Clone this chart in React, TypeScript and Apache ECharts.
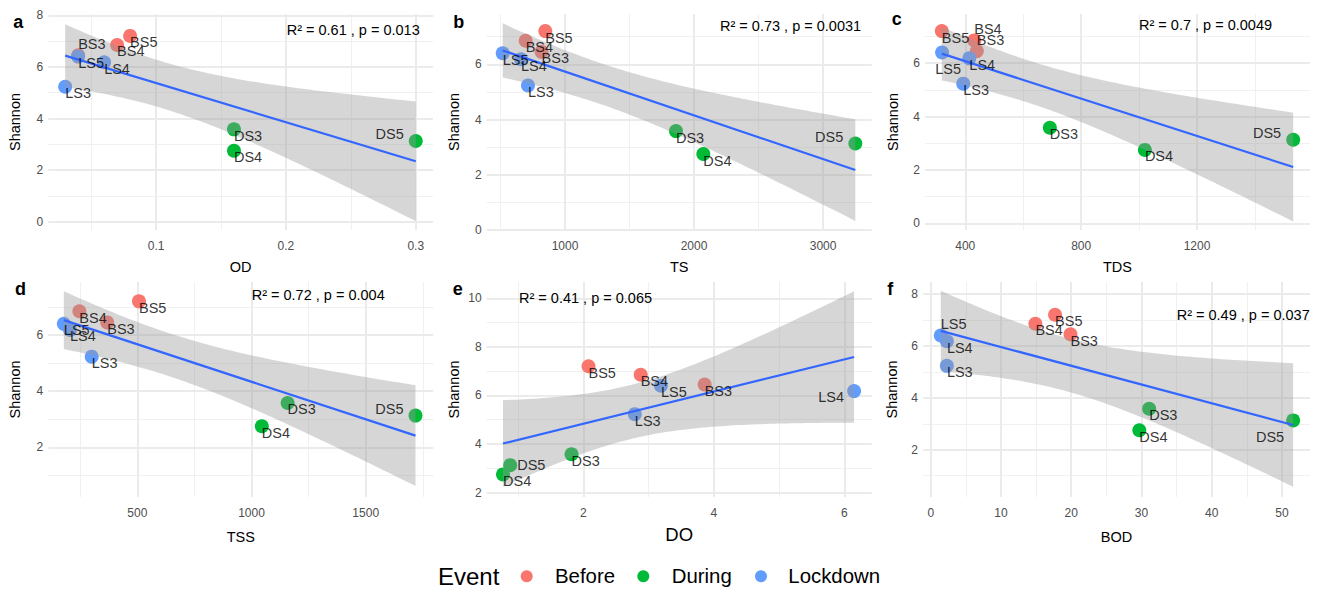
import React, { useEffect, useRef } from 'react';
import * as echarts from 'echarts';

// ---------------- data ----------------
const samples = ['BS3', 'BS4', 'BS5', 'DS3', 'DS4', 'DS5', 'LS3', 'LS4', 'LS5'];
const events = ['Before', 'Before', 'Before', 'During', 'During', 'During', 'Lockdown', 'Lockdown', 'Lockdown'];
const eventNames = ['Before', 'During', 'Lockdown'];
const eventColors = ['#F8766D', '#00BA38', '#619CFF'];
const shannon = [6.45, 6.85, 7.2, 3.58, 2.75, 3.13, 5.23, 6.18, 6.4];

const OD = [0.04, 0.07, 0.08, 0.16, 0.16, 0.3, 0.03, 0.06, 0.04];
const TS = [818, 695, 847, 1860, 2072, 3250, 713, 659, 517];
const TDS = [440, 431, 319, 692, 1020, 1532, 393, 414, 320];
const TSS = [368, 246, 507, 1158, 1045, 1718, 300, 205, 178];
const DO = [3.86, 2.88, 2.08, 1.82, 0.77, 0.88, 2.79, 6.15, 3.19];
const BOD = [19.9, 14.9, 17.7, 31.1, 29.7, 51.6, 2.3, 2.3, 1.43];

const statLabels = [
  'R² = 0.61 , p = 0.013',
  'R² = 0.73 , p = 0.0031',
  'R² = 0.7 , p = 0.0049',
  'R² = 0.72 , p = 0.004',
  'R² = 0.41 , p = 0.065',
  'R² = 0.49 , p = 0.037',
];

const xTickA = [0.1, 0.2, 0.3];
const xTickB = [1000, 2000, 3000];
const xTickC = [400, 800, 1200];
const xTickD = [500, 1000, 1500];
const xTickE = [2, 4, 6];
const xTickF = [0, 10, 20, 30, 40, 50];
const yTickA = [0, 2, 4, 6, 8];
const yTickB = [0, 2, 4, 6];
const yTickC = [0, 2, 4, 6];
const yTickD = [2, 4, 6];
const yTickE = [2, 4, 6, 8, 10];
const yTickF = [2, 4, 6, 8];

// ---------------- layout / style ----------------
const FONT = '"Liberation Sans", Arial, Helvetica, sans-serif';

const panels = [
  { tag: 'a', name: 'OD', x: OD, xTicks: xTickA, xMinor: [0.05, 0.15, 0.25], yTicks: yTickA, yMinor: [1, 3, 5, 7],
    xr: [0.017, 0.3133], yr: [-0.32, 8.05], box: [48.3, 14, 384.7, 216], xGap: 29, yGap: 26, nameSize: 14.5,
    place: ['tr', 'br', 'br', 'br', 'br', 'tl', 'br', 'br', 'br'], tagPos: [13.3, 22], statPos: [286.7, 29.5] },
  { tag: 'b', name: 'TS', x: TS, xTicks: xTickB, xMinor: [500, 1500, 2500], yTicks: yTickB, yMinor: [1, 3, 5, 7],
    xr: [393, 3377], yr: [0, 7.82], box: [486.7, 14, 385, 216], xGap: 29, yGap: 25, nameSize: 14.5,
    place: ['br', 'br', 'br', 'br', 'br', 'tl', 'br', 'br', 'br'], tagPos: [453.3, 22], statPos: [720, 26] },
  { tag: 'c', name: 'TDS', x: TDS, xTicks: xTickC, xMinor: [600, 1000, 1400], yTicks: yTickC, yMinor: [1, 3, 5, 7],
    xr: [261, 1590], yr: [-0.25, 7.84], box: [925, 14, 385, 216], xGap: 29, yGap: 25, nameSize: 14.5,
    place: ['tr', 'tr', 'br', 'br', 'br', 'tl', 'br', 'br', 'b'], tagPos: [891.7, 19], statPos: [1139, 25] },
  { tag: 'd', name: 'TSS', x: TSS, xTicks: xTickD, xMinor: [250, 750, 1250, 1750], yTicks: yTickD, yMinor: [1, 3, 5, 7],
    xr: [110, 1796], yr: [0.23, 7.89], box: [48.3, 282, 385, 215], xGap: 32, yGap: 26, nameSize: 14.5,
    place: ['br', 'br', 'br', 'br', 'br', 'tl', 'br', 'br', 'br'], tagPos: [15, 288.7], statPos: [251.7, 295] },
  { tag: 'e', name: 'DO', x: DO, xTicks: xTickE, xMinor: [1, 3, 5], yTicks: yTickE, yMinor: [3, 5, 7, 9],
    xr: [0.52, 6.42], yr: [1.82, 10.67], box: [486.7, 282, 385, 215], xGap: 28, yGap: 25, nameSize: 18.5,
    place: ['br', 'br', 'br', 'br', 'br', 'r', 'br', 'bl', 'br'], tagPos: [452.7, 288.7], statPos: [519, 297.5] },
  { tag: 'f', name: 'BOD', x: BOD, xTicks: xTickF, xMinor: [5, 15, 25, 35, 45], yTicks: yTickF, yMinor: [1, 3, 5, 7],
    xr: [-1.1, 54.0], yr: [0.18, 8.46], box: [923, 282, 387, 215], xGap: 32, yGap: 24, nameSize: 14.5,
    place: ['br', 'br', 'br', 'br', 'br', 'bl2', 'br', 'br', 'tr'], tagPos: [887.3, 288.7], statPos: [1176.7, 315] },
];

const legendDotX = [526.7, 643.3, 761];
const legendTextX = [555, 671.7, 788.3];
const LEGEND_Y = 576.3;

const placeStyles: Record<string, { off: number[]; align: string; va: string }> = {
  br: { off: [0, -1], align: 'left', va: 'top' },
  tl: { off: [-12, 1], align: 'right', va: 'bottom' },
  tr: { off: [0, -4], align: 'left', va: 'bottom' },
  b: { off: [6, 9], align: 'center', va: 'top' },
  r: { off: [7, 0], align: 'left', va: 'middle' },
  bl: { off: [-10, -2], align: 'right', va: 'top' },
  bl2: { off: [-9, 9], align: 'right', va: 'top' },
};

function linfit(xs: number[], ys: number[]) {
  const n = xs.length;
  const mx = xs.reduce((s, v) => s + v, 0) / n;
  const my = ys.reduce((s, v) => s + v, 0) / n;
  let sxx = 0;
  let sxy = 0;
  for (let i = 0; i < n; i++) {
    sxx += (xs[i] - mx) ** 2;
    sxy += (xs[i] - mx) * (ys[i] - my);
  }
  const b = sxy / sxx;
  const a = my - b * mx;
  let sse = 0;
  for (let i = 0; i < n; i++) sse += (ys[i] - a - b * xs[i]) ** 2;
  const s = Math.sqrt(sse / (n - 2));
  const t = 2.364624; // qt(0.975, 7)
  const lo = Math.min(...xs);
  const hi = Math.max(...xs);
  const upper: number[][] = [];
  const lower: number[][] = [];
  for (let k = 0; k < 80; k++) {
    const x = lo + ((hi - lo) * k) / 79;
    const yh = a + b * x;
    const se = s * Math.sqrt(1 / n + (x - mx) ** 2 / sxx);
    upper.push([x, yh + t * se]);
    lower.push([x, yh - t * se]);
  }
  return { a, b, lo, hi, upper, lower };
}

function buildOption() {
  const grid: any[] = [];
  const xAxis: any[] = [];
  const yAxis: any[] = [];
  const series: any[] = [];
  const graphic: any[] = [];

  panels.forEach((p, i) => {
    const [left, top, width, height] = p.box;
    grid.push({ left, top, width, height, containLabel: false });
    xAxis.push({
      type: 'value', gridIndex: i, min: p.xr[0], max: p.xr[1],
      name: p.name, nameLocation: 'middle', nameGap: p.xGap,
      nameTextStyle: { fontFamily: FONT, fontSize: p.nameSize, color: '#000', fontWeight: 'normal' },
      axisLine: { show: false }, axisTick: { show: false }, splitLine: { show: false },
      axisLabel: { customValues: p.xTicks, formatter: (v: number) => String(v), color: '#4d4d4d', fontSize: 12, fontFamily: FONT, margin: 10 },
    });
    yAxis.push({
      type: 'value', gridIndex: i, min: p.yr[0], max: p.yr[1],
      name: 'Shannon', nameLocation: 'middle', nameGap: p.yGap, nameRotate: 90,
      nameTextStyle: { fontFamily: FONT, fontSize: 14.5, color: '#000', fontWeight: 'normal' },
      axisLine: { show: false }, axisTick: { show: false }, splitLine: { show: false },
      axisLabel: { customValues: p.yTicks, formatter: (v: number) => String(v), color: '#4d4d4d', fontSize: 12, fontFamily: FONT, margin: 5 },
    });

    const gridLines: any[] = [];
    p.xMinor.forEach((v) => gridLines.push({ xAxis: v, lineStyle: { width: 1, color: '#f0f0f0' } }));
    p.yMinor.forEach((v) => gridLines.push({ yAxis: v, lineStyle: { width: 1, color: '#f0f0f0' } }));
    p.xTicks.forEach((v) => gridLines.push({ xAxis: v, lineStyle: { width: 2, color: '#ebebeb' } }));
    p.yTicks.forEach((v) => gridLines.push({ yAxis: v, lineStyle: { width: 2, color: '#ebebeb' } }));

    // points
    eventNames.forEach((ev, k) => {
      const data: number[][] = [];
      samples.forEach((_, j) => {
        if (events[j] === ev) data.push([p.x[j], shannon[j]]);
      });
      series.push({
        type: 'scatter', name: ev, xAxisIndex: i, yAxisIndex: i, z: 2,
        symbolSize: 14, itemStyle: { color: eventColors[k], opacity: 1 },
        data, silent: true,
      });
    });

    // confidence band + fit
    const fit = linfit(p.x, shannon);
    series.push({
      type: 'custom', xAxisIndex: i, yAxisIndex: i, z: 3, silent: true,
      data: [[fit.lo, fit.a + fit.b * fit.lo]],
      renderItem: (_params: any, api: any) => {
        const pts = fit.upper.map((d) => api.coord(d)).concat(fit.lower.slice().reverse().map((d) => api.coord(d)));
        return { type: 'polygon', shape: { points: pts }, style: { fill: '#999999', opacity: 0.4 } };
      },
    });
    series.push({
      type: 'line', xAxisIndex: i, yAxisIndex: i, z: 4, silent: true, showSymbol: false, symbol: 'none',
      lineStyle: { color: '#3366FF', width: 2.2 },
      data: [[fit.lo, fit.a + fit.b * fit.lo], [fit.hi, fit.a + fit.b * fit.hi]],
    });

    // labels + gridlines
    series.push({
      type: 'scatter', xAxisIndex: i, yAxisIndex: i, z: 5, silent: true,
      symbolSize: 1, itemStyle: { color: 'rgba(0,0,0,0)' },
      data: samples.map((s, j) => {
        const ps = placeStyles[p.place[j]];
        return {
          value: [p.x[j], shannon[j]],
          label: {
            show: true, formatter: s, position: [0.5 + ps.off[0], 0.5 + ps.off[1]],
            align: ps.align, verticalAlign: ps.va, color: '#000', fontSize: 14.5, fontFamily: FONT,
          },
        };
      }),
      markLine: {
        z: 1, silent: true, symbol: ['none', 'none'], label: { show: false }, animation: false,
        emphasis: { disabled: true },
        lineStyle: { type: 'solid' },
        data: gridLines,
      },
    });

    graphic.push({
      type: 'text', x: p.tagPos[0], y: p.tagPos[1], silent: true,
      style: { text: p.tag, fontFamily: FONT, fontSize: 18, fontWeight: 'bold', fill: '#000', verticalAlign: 'middle', align: 'left' },
    });
    graphic.push({
      type: 'text', x: p.statPos[0], y: p.statPos[1], silent: true, z: 10,
      style: { text: statLabels[i], fontFamily: FONT, fontSize: 14.5, fill: '#000', verticalAlign: 'middle', align: 'left' },
    });
  });

  // legend (drawn as graphics)
  graphic.push({
    type: 'text', x: 438, y: LEGEND_Y, silent: true,
    style: { text: 'Event', fontFamily: FONT, fontSize: 24, fill: '#000', verticalAlign: 'middle', align: 'left' },
  });
  eventNames.forEach((ev, k) => {
    graphic.push({
      type: 'circle', silent: true, shape: { cx: legendDotX[k], cy: LEGEND_Y, r: 6 },
      style: { fill: eventColors[k] },
    });
    graphic.push({
      type: 'text', x: legendTextX[k], y: LEGEND_Y, silent: true,
      style: { text: ev, fontFamily: FONT, fontSize: 20.4, fill: '#000', verticalAlign: 'middle', align: 'left' },
    });
  });

  return {
    animation: false,
    backgroundColor: '#ffffff',
    grid, xAxis, yAxis, series, graphic,
  };
}

export default function App() {
  const ref = useRef<HTMLDivElement>(null);
  useEffect(() => {
    const chart = echarts.init(ref.current!, null, { renderer: 'svg' });
    chart.setOption(buildOption() as any);
    return () => chart.dispose();
  }, []);
  return <div ref={ref} style={{ position: 'absolute', left: 0, top: 0, width: 1324, height: 589 }} />;
}
